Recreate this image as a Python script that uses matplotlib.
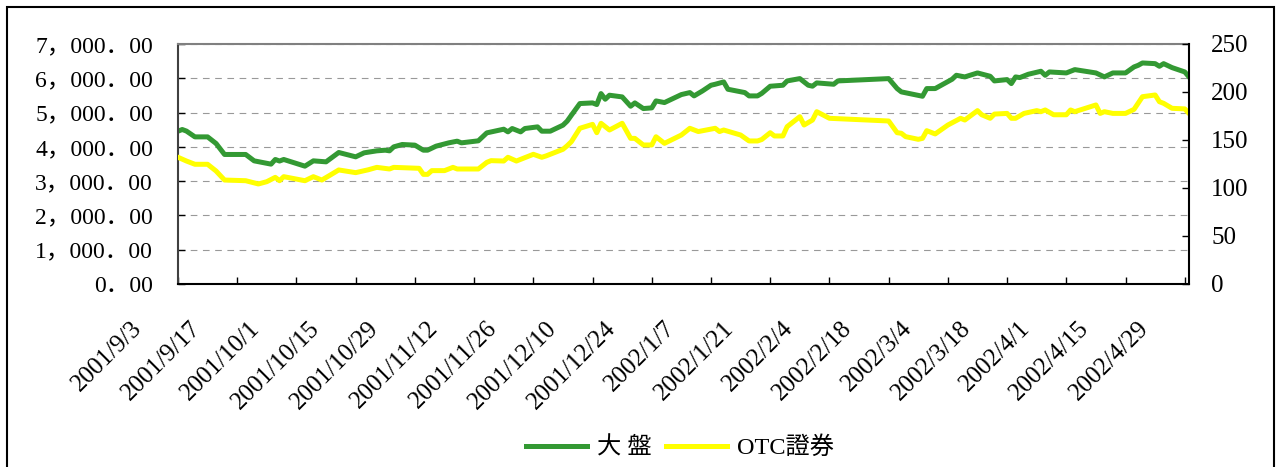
import pandas as pd
import matplotlib
matplotlib.use('Agg')
import matplotlib.pyplot as plt
from matplotlib.patches import Rectangle
from matplotlib.transforms import ScaledTranslation

# Data (x = days counted from 2001/9/3)
start = pd.Timestamp('2001-09-03')
end = pd.Timestamp('2002-04-30')

taiex_day = [0, 1, 2, 4, 7, 9, 11, 16, 18, 22,
             23, 24, 25, 30, 32, 35, 38, 42, 44, 47,
             49, 50, 51, 53, 56, 58, 59, 61, 64, 66,
             67, 71, 73, 77, 78, 79, 81, 82, 85, 86,
             88, 91, 92, 93, 95, 98, 99, 100, 101, 102,
             105, 107, 108, 110, 112, 113, 115, 119, 121, 122,
             124, 126, 127, 129, 130, 134, 135, 137, 138, 140,
             143, 144, 147, 149, 150, 151, 155, 156, 168, 170,
             171, 176, 177, 179, 183, 184, 186, 189, 192, 193,
             196, 197, 198, 199, 201, 204, 205, 206, 210, 212,
             217, 219, 221, 224, 226, 227, 228, 231, 232, 233,
             235, 238, 239]
taiex = [4457, 4506, 4460, 4291, 4291, 4098, 3778, 3778, 3592, 3496,
         3632, 3587, 3632, 3437, 3592, 3563, 3836, 3709, 3826, 3884,
         3903, 3884, 4000, 4069, 4050, 3903, 3903, 4020, 4117, 4166,
         4117, 4176, 4408, 4515, 4437, 4535, 4437, 4535, 4583, 4457,
         4457, 4632, 4750, 4923, 5263, 5282, 5234, 5554, 5389, 5506,
         5457, 5185, 5282, 5117, 5137, 5340, 5292, 5525, 5583, 5486,
         5632, 5797, 5826, 5894, 5680, 5583, 5486, 5486, 5560, 5768,
         5797, 5923, 5991, 5797, 5770, 5865, 5826, 5923, 5991, 5700,
         5603, 5476, 5700, 5700, 5972, 6088, 6040, 6156, 6059, 5923,
         5962, 5845, 6040, 6020, 6117, 6205, 6088, 6185, 6156, 6253,
         6156, 6040, 6156, 6156, 6331, 6379, 6447, 6427, 6350, 6427,
         6311, 6185, 6040]

otc_day = [0, 2, 4, 7, 9, 11, 16, 19, 21, 23,
           24, 25, 30, 32, 34, 36, 38, 42, 45, 47,
           50, 51, 57, 58, 59, 60, 63, 65, 66, 71,
           73, 74, 77, 78, 80, 84, 86, 87, 91, 92,
           93, 95, 98, 99, 100, 102, 105, 107, 108, 110,
           112, 113, 115, 119, 121, 123, 127, 128, 129, 133,
           135, 137, 138, 140, 141, 143, 144, 147, 148, 150,
           151, 154, 168, 170, 171, 172, 175, 176, 177, 179,
           182, 185, 186, 189, 190, 192, 193, 196, 197, 198,
           200, 203, 204, 205, 207, 210, 211, 212, 217, 218,
           219, 221, 224, 226, 228, 231, 232, 233, 235, 238,
           239]
otc = [132.0, 128.1, 124.7, 124.7, 117.7, 108.3, 107.6, 104.2, 106.6, 111.1,
       107.6, 111.8, 107.6, 111.8, 108.3, 113.5, 118.8, 116.0, 119.0, 121.5,
       119.8, 121.5, 120.5, 114.2, 114.2, 118.1, 118.1, 121.5, 119.8, 119.8,
       126.7, 128.5, 128.1, 132.0, 128.1, 135.1, 132.0, 133.4, 140.3, 144.0,
       148.3, 162.2, 166.3, 157.6, 167.4, 160.4, 167.4, 151.7, 151.7, 144.8,
       144.8, 153.4, 146.5, 155.2, 162.2, 158.8, 162.2, 158.8, 160.4, 155.2,
       149.0, 149.0, 150.5, 157.6, 154.2, 154.2, 163.9, 174.3, 165.6, 170.8,
       179.5, 172.6, 169.8, 157.6, 157.0, 153.5, 150.7, 151.7, 159.7, 156.3,
       165.6, 172.6, 170.8, 180.6, 176.3, 172.6, 177.0, 177.7, 172.6, 172.6,
       177.7, 180.6, 179.5, 181.3, 176.3, 176.3, 181.3, 179.5, 186.5, 177.7,
       179.5, 177.7, 177.7, 181.9, 195.1, 196.9, 189.9, 188.2, 183.0, 182.4,
       177.7]

series_names = ['大 盤', 'OTC證券']
left_ticks = [0, 1000, 2000, 3000, 4000, 5000, 6000, 7000]
right_ticks = [0, 50, 100, 150, 200, 250]

taiex_dates = start + pd.to_timedelta(taiex_day, unit='D')
otc_dates = start + pd.to_timedelta(otc_day, unit='D')
tick_dates = pd.date_range(start, '2002-04-29', freq='14D')

serif_cjk = ['Liberation Serif', 'Noto Sans CJK JP']

W, H = 1279, 467
fig = plt.figure(figsize=(W / 100, H / 100), dpi=100)
ax = fig.add_axes([178 / W, 1 - 284 / H, (1189 - 178) / W, (284 - 44) / H])
ax2 = ax.twinx()

l1, = ax.plot(taiex_dates, taiex, color='#339933', lw=3.6, solid_joinstyle='round')
l2, = ax2.plot(otc_dates, otc, color='#ffff00', lw=3.6, solid_joinstyle='round')

ax.set_xlim(start, end)
ax.set_ylim(0, 7000)
ax2.set_ylim(0, 250)

# x axis
ax.set_xticks(tick_dates)
ax.set_xticklabels([f"{d.year}/{d.month}/{d.day}" for d in tick_dates],
                   rotation=45, ha='right', va='top', fontsize=18,
                   family='Liberation Serif')
ax.tick_params(axis='x', direction='in', length=5, width=1, pad=24)

# left axis
ax.set_yticks(left_ticks)
ax.set_yticklabels([f"{v:,.2f}".replace(',', '，').replace('.', '．') for v in left_ticks],
                   fontsize=17, family=serif_cjk)
ax.tick_params(axis='y', direction='in', length=5, width=1, pad=18)
ax.yaxis.grid(True, color='#999999', lw=0.8, linestyle=(0, (6, 5)))
ax.set_axisbelow(True)

# right axis
ax2.set_yticks(right_ticks)
ax2.set_yticklabels([str(v) for v in right_ticks], fontsize=18, family='Liberation Serif')
ax2.tick_params(axis='y', direction='in', length=5, width=1, pad=16)

for s in ['left', 'top', 'bottom']:
    ax2.spines[s].set_visible(False)
ax.spines['right'].set_visible(False)
ax.spines['top'].set_color('#808080')
ax.spines['left'].set_color('#404040')
ax.spines['bottom'].set_color('black')
ax2.spines['right'].set_color('black')
for sp in list(ax.spines.values()) + [ax2.spines['right']]:
    sp.set_linewidth(1.5)

# Excel puts the slanted date labels a bit left of their ticks
shift = ScaledTranslation(-32 / 100, 0, fig.dpi_scale_trans)
for lbl in ax.get_xticklabels():
    lbl.set_transform(lbl.get_transform() + shift)

fig.legend([l1, l2], series_names, loc='center', bbox_to_anchor=(680 / W, 19 / H),
           ncol=2, frameon=False, prop={'family': serif_cjk, 'size': 17.5},
           handlelength=2.5, handletextpad=0.4, columnspacing=0.6)

# outer chart border
fig.patches.append(Rectangle((7 / W, -0.05), (1274 - 7) / W, (H - 7) / H + 0.05,
                             transform=fig.transFigure, fill=False, ec='black', lw=1.5))

fig.savefig('out.png', dpi=100)
